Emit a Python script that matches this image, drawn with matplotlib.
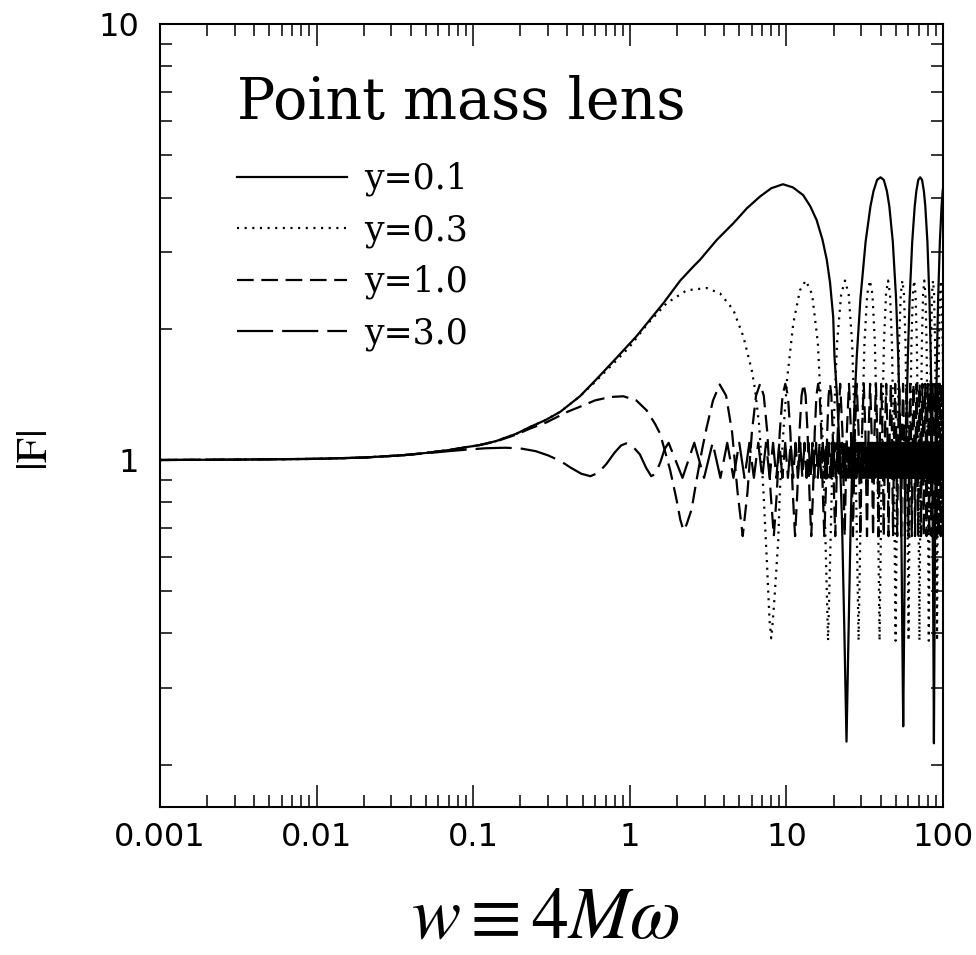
import matplotlib
matplotlib.use('Agg')
import matplotlib.pyplot as plt
from matplotlib.lines import Line2D
from matplotlib.ticker import LogLocator, NullFormatter

plt.rcParams['lines.scale_dashes'] = False
plt.rcParams['mathtext.fontset'] = 'stix'

# ---------------- data ----------------
# y = 0.1 (solid)
w_y01 = [0.001, 0.003, 0.01, 0.02, 0.035, 0.05, 0.07, 0.09, 0.11, 0.14,
         0.19, 0.23, 0.29, 0.36, 0.48, 0.6, 0.78, 1.1, 1.64, 2.1,
         2.55, 2.81, 3.6, 4.58, 5.6, 6.78, 8.0, 9.5, 11.0, 12.8,
         14.2, 15.6, 17.0, 18.1, 19.0, 19.9, 20.28, 21.06, 21.85, 22.63,
         23.41, 24.2, 24.99, 25.77, 26.56, 27.34, 28.13, 29.7, 32.05, 34.41,
         35.98, 37.94, 39.9, 41.88, 43.85, 45.43, 47.8, 50.17, 51.75, 52.54,
         53.33, 54.12, 54.91, 55.7, 56.49, 57.28, 58.07, 58.86, 59.65, 61.23,
         63.6, 65.97, 67.55, 69.53, 71.5, 73.5, 75.5, 77.1, 79.5, 81.9,
         83.5, 84.3, 85.1, 85.9, 86.7, 87.5, 88.3, 89.1, 89.9, 90.7,
         91.5, 93.1, 95.5, 97.9, 99.5, 100.0]
F_y01 = [1.000, 1.002, 1.006, 1.013, 1.025, 1.038, 1.054, 1.07, 1.082, 1.105,
         1.15, 1.19, 1.235, 1.29, 1.40, 1.52, 1.68, 1.92, 2.29, 2.58,
         2.78, 2.88, 3.2, 3.49, 3.78, 4.02, 4.2, 4.29, 4.22, 4.05,
         3.82, 3.55, 3.2, 2.88, 2.55, 2.13, 1.725, 1.40, 1.068, 0.735,
         0.417, 0.226, 0.417, 0.735, 1.068, 1.40, 1.725, 2.346, 3.168, 3.817,
         4.135, 4.39, 4.45, 4.39, 4.135, 3.817, 3.168, 2.346, 1.725, 1.40,
         1.068, 0.735, 0.417, 0.245, 0.417, 0.735, 1.068, 1.40, 1.725, 2.346,
         3.168, 3.817, 4.135, 4.39, 4.45, 4.39, 4.135, 3.817, 3.168, 2.346,
         1.725, 1.40, 1.068, 0.735, 0.417, 0.224, 0.417, 0.735, 1.068, 1.40,
         1.725, 2.346, 3.168, 3.817, 4.135, 4.2]

# y = 0.3 (dotted)
w_y03 = [0.001, 0.003, 0.01, 0.02, 0.035, 0.05, 0.07, 0.09, 0.11, 0.14,
         0.19, 0.23, 0.29, 0.36, 0.48, 0.6, 0.78, 1.0, 1.28, 1.72,
         2.31, 3.1, 3.77, 4.58, 5.31, 6.0, 6.31, 6.7, 7.13, 7.48,
         7.8, 8.0, 8.2, 8.45, 8.87, 9.09, 9.5, 10.1, 11.07, 12.2,
         13.3, 14.59, 15.88, 17.16, 17.81,
         18.45, 19.1, 19.76, 21.06, 22.37, 23.68, 24.98, 26.29, 27.59, 28.25,
         28.9, 29.55, 30.21, 31.51, 32.82, 34.13, 35.43, 36.74, 38.04, 38.7,
         39.35, 40.0, 40.66, 41.96, 43.27, 44.58, 45.88, 47.19, 48.49, 49.15,
         49.8, 50.45, 51.11, 52.41, 53.72, 55.03, 56.33, 57.64, 58.94, 59.6,
         60.25, 60.9, 61.56, 62.86, 64.17, 65.48, 66.78, 68.09, 69.39, 70.05,
         70.7, 71.35, 72.01, 73.31, 74.62, 75.93, 77.23, 78.54, 79.84, 80.5,
         81.15, 81.8, 82.46, 83.76, 85.07, 86.38, 87.68, 88.99, 90.29, 90.95,
         91.6, 92.25, 92.91, 94.21, 95.52, 96.83, 98.13, 99.44, 100.0]
F_y03 = [1.000, 1.002, 1.006, 1.013, 1.025, 1.038, 1.054, 1.07, 1.082, 1.105,
         1.15, 1.19, 1.235, 1.29, 1.40, 1.51, 1.66, 1.82, 2.04, 2.29,
         2.45, 2.48, 2.41, 2.21, 1.92, 1.61, 1.45, 1.2, 0.853, 0.6,
         0.43, 0.39, 0.43, 0.50, 0.656, 0.853, 1.12, 1.53, 2.06, 2.45,
         2.58, 2.40, 1.856, 1.056, 0.632,
         0.385, 0.632, 1.056, 1.856, 2.40, 2.58, 2.40, 1.856, 1.056, 0.632,
         0.385, 0.632, 1.056, 1.856, 2.40, 2.58, 2.40, 1.856, 1.056, 0.632,
         0.385, 0.632, 1.056, 1.856, 2.40, 2.58, 2.40, 1.856, 1.056, 0.632,
         0.385, 0.632, 1.056, 1.856, 2.40, 2.58, 2.40, 1.856, 1.056, 0.632,
         0.385, 0.632, 1.056, 1.856, 2.40, 2.58, 2.40, 1.856, 1.056, 0.632,
         0.385, 0.632, 1.056, 1.856, 2.40, 2.58, 2.40, 1.856, 1.056, 0.632,
         0.385, 0.632, 1.056, 1.856, 2.40, 2.58, 2.40, 1.856, 1.056, 0.632,
         0.385, 0.632, 1.056, 1.856, 2.40, 2.58, 2.40, 1.856, 1.6]

# y = 1.0 (dashed)
w_y10 = [0.001, 0.003, 0.01, 0.02, 0.035, 0.05, 0.07, 0.09, 0.11, 0.14,
         0.19, 0.23, 0.294, 0.4, 0.481, 0.6, 0.75, 0.91, 1.1, 1.28,
         1.45, 1.56, 1.7, 1.81, 1.99, 2.1, 2.2, 2.3, 2.48, 2.67,
         2.9, 3.1, 3.4, 3.75, 4.12, 4.5, 4.88,
         5.26, 5.64, 6.02, 6.4, 6.79, 7.17, 7.55, 7.93,
         8.31, 8.69, 9.07, 9.45, 9.84, 10.22, 10.6, 10.98,
         11.36, 11.74, 12.12, 12.5, 12.89, 13.27, 13.65, 14.03,
         14.41, 14.79, 15.17, 15.55, 15.94, 16.32, 16.7, 17.08,
         17.46, 17.84, 18.22, 18.6, 18.99, 19.37, 19.75, 20.13,
         20.51, 21.27, 22.04, 22.8, 23.56, 24.32, 25.09, 25.85,
         26.61, 27.37, 28.14, 28.9, 29.66, 30.42, 31.19, 31.95,
         32.71, 33.47, 34.24, 35.0, 35.76, 36.52, 37.29, 38.05,
         38.81, 39.57, 40.34, 41.1, 41.86, 42.62, 43.39, 44.15,
         44.91, 45.67, 46.44, 47.2, 47.96, 48.72, 49.49, 50.25,
         51.01, 51.77, 52.54, 53.3, 54.06, 54.82, 55.59, 56.35,
         57.11, 57.87, 58.64, 59.4, 60.16, 60.92, 61.69, 62.45,
         63.21, 63.97, 64.74, 65.5, 66.26, 67.02, 67.79, 68.55,
         69.31, 70.07, 70.84, 71.6, 72.36, 73.12, 73.89, 74.65,
         75.41, 76.17, 76.94, 77.7, 78.46, 79.22, 79.99, 80.75,
         81.51, 82.27, 83.04, 83.8, 84.56, 85.32, 86.09, 86.85,
         87.61, 88.37, 89.14, 89.9, 90.66, 91.42, 92.19, 92.95,
         93.71, 94.47, 95.24, 96.0, 96.76, 97.52, 98.29, 99.05,
         99.81, 100.0]
F_y10 = [1.000, 1.002, 1.006, 1.013, 1.025, 1.038, 1.054, 1.07, 1.082, 1.103,
         1.145, 1.18, 1.22, 1.29, 1.325, 1.37, 1.395, 1.40, 1.37, 1.30,
         1.21, 1.15, 1.03, 0.948, 0.81, 0.73, 0.69, 0.71, 0.77, 0.90,
         1.06, 1.19, 1.37, 1.49, 1.405, 1.158, 0.842,
         0.669, 0.842, 1.158, 1.405, 1.495, 1.405, 1.158, 0.842,
         0.669, 0.842, 1.158, 1.405, 1.495, 1.405, 1.158, 0.842,
         0.669, 0.842, 1.158, 1.405, 1.495, 1.405, 1.158, 0.842,
         0.669, 0.842, 1.158, 1.405, 1.495, 1.405, 1.158, 0.842,
         0.669, 0.842, 1.158, 1.405, 1.495, 1.405, 1.158, 0.842,
         0.669, 1.158, 1.495, 1.158, 0.669, 1.158, 1.495, 1.158,
         0.669, 1.158, 1.495, 1.158, 0.669, 1.158, 1.495, 1.158,
         0.669, 1.158, 1.495, 1.158, 0.669, 1.158, 1.495, 1.158,
         0.669, 1.158, 1.495, 1.158, 0.669, 1.158, 1.495, 1.158,
         0.669, 1.158, 1.495, 1.158, 0.669, 1.158, 1.495, 1.158,
         0.669, 1.158, 1.495, 1.158, 0.669, 1.158, 1.495, 1.158,
         0.669, 1.158, 1.495, 1.158, 0.669, 1.158, 1.495, 1.158,
         0.669, 1.158, 1.495, 1.158, 0.669, 1.158, 1.495, 1.158,
         0.669, 1.158, 1.495, 1.158, 0.669, 1.158, 1.495, 1.158,
         0.669, 1.158, 1.495, 1.158, 0.669, 1.158, 1.495, 1.158,
         0.669, 1.158, 1.495, 1.158, 0.669, 1.158, 1.495, 1.158,
         0.669, 1.158, 1.495, 1.158, 0.669, 1.158, 1.495, 1.158,
         0.669, 1.158, 1.495, 1.158, 0.669, 1.158, 1.495, 1.158,
         0.669, 0.70]

# y = 3.0 (long dashed)
w_y30 = [0.001, 0.003, 0.01, 0.02, 0.035, 0.05, 0.07, 0.09, 0.12, 0.16,
         0.2, 0.25, 0.3, 0.36, 0.42, 0.49, 0.56, 0.63, 0.71, 0.8,
         0.88, 0.95, 1.03, 1.16, 1.27, 1.37, 1.46, 1.57, 1.67,
         1.77, 2.17, 2.58, 2.98, 3.38, 3.79, 4.19, 4.59, 5.0, 5.4,
         5.8, 6.2, 6.61, 7.01, 7.41, 7.82, 8.22, 8.62, 9.02, 9.43,
         9.83, 10.23, 10.64, 11.04, 11.44, 11.85, 12.25, 12.65, 13.05, 13.46,
         13.86, 14.26, 14.67, 15.07, 15.47, 15.88, 16.28, 16.68, 17.09, 17.49,
         17.89, 18.29, 18.7, 19.1, 19.5, 19.91, 20.31, 20.71, 21.11, 21.52,
         21.92, 22.32, 22.73, 23.13, 23.53, 23.94, 24.34, 24.74, 25.14, 25.55,
         25.95, 26.35, 26.76, 27.16, 27.56, 27.97, 28.37, 28.77, 29.17, 29.58,
         29.98, 30.38, 30.79, 31.19, 31.59, 32.0, 32.4, 32.8, 33.2, 33.61,
         34.01, 34.41, 34.82, 35.22, 35.62, 36.03, 36.43, 36.83, 37.23, 37.64,
         38.04, 38.44, 38.85, 39.25, 39.65, 40.06, 40.46, 40.86, 41.26, 41.67,
         42.07, 42.47, 42.88, 43.28, 43.68, 44.09, 44.49, 44.89, 45.29, 45.7,
         46.1, 46.5, 46.91, 47.31, 47.71, 48.12, 48.52, 48.92, 49.32, 49.73,
         50.13, 50.53, 50.94, 51.34, 51.74, 52.15, 52.55, 52.95, 53.35, 53.76,
         54.16, 54.56, 54.97, 55.37, 55.77, 56.18, 56.58, 56.98, 57.38, 57.79,
         58.19, 58.59, 59.0, 59.4, 59.8, 60.21, 60.61, 61.01, 61.41, 61.82,
         62.22, 62.62, 63.03, 63.43, 63.83, 64.24, 64.64, 65.04, 65.44, 65.85,
         66.25, 66.65, 67.06, 67.46, 67.86, 68.27, 68.67, 69.07, 69.47, 69.88,
         70.28, 70.68, 71.09, 71.49, 71.89, 72.3, 72.7, 73.1, 73.5, 73.91,
         74.31, 74.71, 75.12, 75.52, 75.92, 76.33, 76.73, 77.13, 77.53, 77.94,
         78.34, 78.74, 79.15, 79.55, 79.95, 80.36, 80.76, 81.16, 81.56, 81.97,
         82.37, 82.77, 83.18, 83.58, 83.98, 84.39, 84.79, 85.19, 85.59, 86.0,
         86.4, 86.8, 87.21, 87.61, 88.01, 88.42, 88.82, 89.22, 89.62, 90.03,
         90.43, 90.83, 91.24, 91.64, 92.04, 92.45, 92.85, 93.25, 93.65, 94.06,
         94.46, 94.86, 95.27, 95.67, 96.07, 96.48, 96.88, 97.28, 97.68, 98.09,
         98.49, 98.89, 99.3, 99.7, 100.0]
F_y30 = [1.000, 1.002, 1.006, 1.013, 1.025, 1.036, 1.048, 1.056, 1.064, 1.067,
         1.063, 1.048, 1.025, 0.995, 0.96, 0.93, 0.918, 0.935, 0.98, 1.04,
         1.08, 1.092, 1.08, 1.03, 0.96, 0.918, 0.93, 0.99, 1.06,
         1.095, 0.91, 1.095, 0.91, 1.095, 0.91, 1.095, 0.91, 1.095, 0.91,  # 1
         1.095, 0.91, 1.095, 0.91, 1.095, 0.91, 1.095, 0.91, 1.095, 0.91,  # 2
         1.095, 0.91, 1.095, 0.91, 1.095, 0.91, 1.095, 0.91, 1.095, 0.91,  # 3
         1.095, 0.91, 1.095, 0.91, 1.095, 0.91, 1.095, 0.91, 1.095, 0.91,  # 4
         1.095, 0.91, 1.095, 0.91, 1.095, 0.91, 1.095, 0.91, 1.095, 0.91,  # 5
         1.095, 0.91, 1.095, 0.91, 1.095, 0.91, 1.095, 0.91, 1.095, 0.91,  # 6
         1.095, 0.91, 1.095, 0.91, 1.095, 0.91, 1.095, 0.91, 1.095, 0.91,  # 7
         1.095, 0.91, 1.095, 0.91, 1.095, 0.91, 1.095, 0.91, 1.095, 0.91,  # 8
         1.095, 0.91, 1.095, 0.91, 1.095, 0.91, 1.095, 0.91, 1.095, 0.91,  # 9
         1.095, 0.91, 1.095, 0.91, 1.095, 0.91, 1.095, 0.91, 1.095, 0.91,  # 10
         1.095, 0.91, 1.095, 0.91, 1.095, 0.91, 1.095, 0.91, 1.095, 0.91,  # 11
         1.095, 0.91, 1.095, 0.91, 1.095, 0.91, 1.095, 0.91, 1.095, 0.91,  # 12
         1.095, 0.91, 1.095, 0.91, 1.095, 0.91, 1.095, 0.91, 1.095, 0.91,  # 13
         1.095, 0.91, 1.095, 0.91, 1.095, 0.91, 1.095, 0.91, 1.095, 0.91,  # 14
         1.095, 0.91, 1.095, 0.91, 1.095, 0.91, 1.095, 0.91, 1.095, 0.91,  # 15
         1.095, 0.91, 1.095, 0.91, 1.095, 0.91, 1.095, 0.91, 1.095, 0.91,  # 16
         1.095, 0.91, 1.095, 0.91, 1.095, 0.91, 1.095, 0.91, 1.095, 0.91,  # 17
         1.095, 0.91, 1.095, 0.91, 1.095, 0.91, 1.095, 0.91, 1.095, 0.91,  # 18
         1.095, 0.91, 1.095, 0.91, 1.095, 0.91, 1.095, 0.91, 1.095, 0.91,  # 19
         1.095, 0.91, 1.095, 0.91, 1.095, 0.91, 1.095, 0.91, 1.095, 0.91,  # 20
         1.095, 0.91, 1.095, 0.91, 1.095, 0.91, 1.095, 0.91, 1.095, 0.91,  # 21
         1.095, 0.91, 1.095, 0.91, 1.095, 0.91, 1.095, 0.91, 1.095, 0.91,  # 22
         1.095, 0.91, 1.095, 0.91, 1.095, 0.91, 1.095, 0.91, 1.095, 0.91,  # 23
         1.095, 0.91, 1.095, 0.91, 1.095, 0.91, 1.095, 0.91, 1.095, 0.91,  # 24
         1.095, 0.91, 1.095, 0.91, 1.095]

labels = ['y=0.1', 'y=0.3', 'y=1.0', 'y=3.0']
xtick_vals = [0.001, 0.01, 0.1, 1, 10, 100]
xtick_labels = ['0.001', '0.01', '0.1', '1', '10', '100']
ytick_vals = [1, 10]
ytick_labels = ['1', '10']

# ---------------- figure ----------------
fig = plt.figure(figsize=(9.76, 9.55), dpi=100)
ax = fig.add_axes([160 / 976, 1 - 807 / 955, 783 / 976, 783 / 955])

lw = 1.6
styles = [
    dict(linestyle='-'),
    dict(linestyle=(0, (1.5, 4.0))),
    dict(linestyle=(0, (12.0, 5.5))),
    dict(linestyle=(0, (26.0, 6.5))),
]
series = [(w_y01, F_y01), (w_y03, F_y03), (w_y10, F_y10), (w_y30, F_y30)]
handles = []
for (w, F), st, lab in zip(series, styles, labels):
    ax.plot(w, F, color='black', lw=lw, **st)
    handles.append(Line2D([], [], color='black', lw=lw, **st))

ax.set_xscale('log')
ax.set_yscale('log')
ax.set_xlim(0.001, 100)
ax.set_ylim(0.16, 10)

tick_font = dict(family=['DejaVu Sans'], size=23)
ax.set_xticks(xtick_vals)
ax.set_xticklabels(xtick_labels, **tick_font)
ax.set_yticks(ytick_vals)
ax.set_yticklabels(ytick_labels, **tick_font)
ax.xaxis.set_minor_locator(LogLocator(base=10, subs=range(2, 10), numticks=30))
ax.yaxis.set_minor_locator(LogLocator(base=10, subs=range(2, 10), numticks=30))
ax.xaxis.set_minor_formatter(NullFormatter())
ax.yaxis.set_minor_formatter(NullFormatter())
ax.tick_params(which='both', direction='in', top=True, right=True, width=1.1)
ax.tick_params(which='major', length=16)
ax.tick_params(which='minor', length=8.5)
ax.tick_params(axis='x', which='major', pad=11)
ax.tick_params(axis='y', which='major', pad=15)
for sp in ax.spines.values():
    sp.set_linewidth(1.5)

serif = ['DejaVu Serif']
ax.text(0.098, 0.899, 'Point mass lens', transform=ax.transAxes,
        family=serif, fontsize=41, ha='left', va='center')

leg = ax.legend(handles, labels, loc='upper left', bbox_to_anchor=(0.098, 0.824),
                frameon=False, borderpad=0, borderaxespad=0,
                handlelength=3.17, handletextpad=0.5, labelspacing=0.49,
                prop=dict(family=serif, size=25))

ax.set_xlabel(r'$w \equiv 4M\omega$', fontsize=53, va='center')
ax.xaxis.set_label_coords(0.492, -0.141)
ax.set_ylabel(r'$|\mathrm{F}|$', fontsize=32, va='center')
ax.yaxis.set_label_coords(-0.16, 0.455)

fig.savefig('out.png', dpi=100)
